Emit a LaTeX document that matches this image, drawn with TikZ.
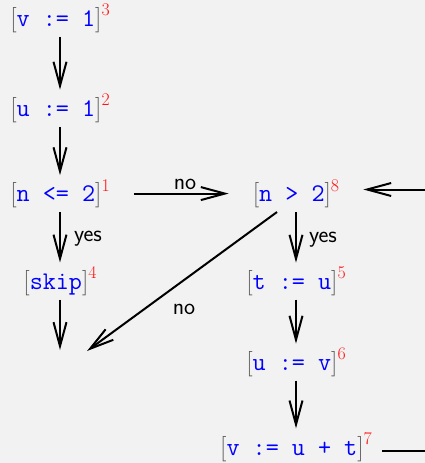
\documentclass[tikz,border=0pt]{standalone}
\usetikzlibrary{arrows.meta}
\definecolor{bgc}{RGB}{242,242,242}
\definecolor{brk}{RGB}{90,90,90}
\definecolor{codeblue}{RGB}{0,0,255}
\definecolor{labred}{RGB}{255,20,20}
\newcommand{\lab}[2]{\textcolor{brk}{[}\textcolor{codeblue}{\texttt{#1}}\textcolor{brk}{]}\raisebox{10.4pt}{\fontsize{17.8}{20}\selectfont\textcolor{labred}{#2}}}
\begin{document}
\begin{tikzpicture}[x=1pt,y=-1pt,
  stmt/.style={font=\fontsize{25.4}{30}\selectfont, inner xsep=24pt, inner ysep=4pt, anchor=base},
  lbl/.style={font=\sffamily\fontsize{23.5}{28}\selectfont, inner sep=0pt},
  flow/.style={line width=2pt, -{Straight Barb[length=24pt,width=13pt]}},
  plain/.style={line width=2pt}]
\fill[bgc] (0,0) rectangle (425,463);
\useasboundingbox (0,0) rectangle (425,463);
% statements
\node[stmt] (n3) at (60,26) {\lab{v := 1}{3}};
\node[stmt] (n2) at (60,116) {\lab{u := 1}{2}};
\node[stmt] (n1) at (60,201.5) {\lab{n <= 2}{1}};
\node[stmt] (n4) at (60,289) {\lab{skip}{4}};
\node[stmt] (n8) at (296,201.5) {\lab{n > 2}{8}};
\node[stmt] (n5) at (296,289) {\lab{t := u}{5}};
\node[stmt] (n6) at (296,370) {\lab{u := v}{6}};
\node[stmt, inner xsep=10pt] (n7) at (296,455) {\lab{v := u + t}{7}};
% free ends
\coordinate (e1) at (60,350);
\coordinate (e2) at (87,351);
\coordinate (cin) at (430,189.5);
\coordinate (c7) at (430,451);
% labels
\node[lbl] (no1) at (185,184) {no};
\node[lbl] (yes1) at (88,239) {yes};
\node[lbl] (yes2) at (323,240) {yes};
\node[lbl] (no2) at (184,309) {no};
% connectors
\draw[flow] (n3) -- (n2);
\draw[flow] (n2) -- (n1);
\draw[flow] (n1) -- (n4);
\draw[flow] (n4) -- (e1);
\draw[flow] (n1) -- (n8);
\draw[flow] (cin) -- (cin -| n8.east);
\draw[flow] ([xshift=-19pt]n8.south) -- (e2);
\draw[flow] (n8) -- (n5);
\draw[flow] (n5) -- (n6);
\draw[flow] (n6) -- (n7);
\draw[plain] (n7.east |- c7) -- (c7);
\end{tikzpicture}
\end{document}
